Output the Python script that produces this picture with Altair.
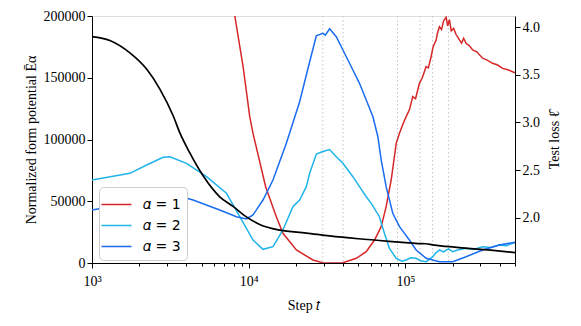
import altair as alt
import pandas as pd

# ---------------- data ----------------
loss_steps = [1000, 1300, 1745, 2230, 2710, 3296, 3637, 4209, 5117, 6531, 7943, 9664,
              11750, 15750, 23300, 32800, 50000, 91600, 120000, 135000, 148600, 181600,
              250000, 350000, 500000]
loss_vals = [3.90, 3.86, 3.73, 3.56, 3.35, 3.07, 2.89, 2.68, 2.44, 2.22, 2.12, 2.01,
             1.93, 1.87, 1.84, 1.81, 1.78, 1.745, 1.73, 1.728, 1.716, 1.70,
             1.68, 1.66, 1.635]

a1_steps = [7000, 8150, 9205, 10150, 10650, 12820, 15000, 16530, 20130, 25700, 29580,
            35000, 39900, 48530, 56200, 63500, 70000, 75300, 81100, 87300, 91600, 96000,
            101000, 106000, 111300, 116000, 122800, 128000, 135500, 140000, 145800,
            150000, 157000, 160000, 164800, 170000, 175000, 181700, 186000, 190700,
            196000, 203000, 210400, 220000, 228000, 235000, 243600, 255000, 268500,
            285000, 310700, 330000, 359700, 385000, 416900, 450000, 482000, 500000]
a1_vals = [250000, 200000, 158950, 118460, 105020, 61780, 37490, 24050, 10530, 2430, 240,
           0, 240, 3800, 9150, 18620, 29390, 45590, 67210, 96920, 105000, 112000,
           118500, 124000, 134700, 133000, 145500, 150000, 159000, 158000, 167000,
           175000, 180500, 186000, 191300, 189000, 196000, 199000, 192000, 197000,
           188000, 190000, 185000, 181000, 178000, 182000, 177900, 176000, 172500,
           171000, 165800, 164500, 161700, 160500, 157600, 156500, 154900, 154000]

a2_steps = [1000, 1745, 2230, 2845, 3140, 4010, 5380, 7210, 8770, 10650, 12330, 14280,
            16530, 19140, 21130, 23300, 24480, 27000, 29730, 32800, 36200, 39900, 46200,
            50900, 56200, 60500, 68200, 73400, 79000, 87300, 95000, 101000, 108000,
            117000, 125000, 135500, 142000, 149300, 156000, 164800, 175000, 188000,
            200000, 215000, 243600, 270000, 310700, 350000, 396800, 440000, 482000,
            500000]
a2_vals = [67210, 72630, 79350, 85580, 86070, 80730, 69880, 56440, 37490, 18620, 11090,
           13200, 26720, 45590, 51010, 61780, 72630, 88260, 90280, 91900, 86070, 80730,
           69880, 61780, 53680, 48340, 37490, 24050, 11900, 3800, 1500, 2430, 4200,
           3800, 1800, 1050, 3000, 5100, 8000, 10530, 9000, 11500, 9150, 10500, 11900,
           11000, 13200, 12500, 14570, 14000, 15960, 16500]

a3_steps = [1000, 1745, 2990, 4415, 6530, 8350, 9660, 10650, 12330, 14280, 17380,
            21130, 24480, 27000, 29730, 30800, 32800, 36200, 39900, 46200, 50900, 56200,
            62000, 66700, 70000, 75300, 83000, 91600, 106000, 117000, 135500, 164800,
            200000, 243600, 310700, 396800, 482000, 500000]
a3_vals = [42900, 48340, 56920, 51010, 42910, 37490, 35630, 38870, 51010, 67210, 96920,
           130600, 163000, 183960, 186000, 184500, 189630, 183240, 172470, 156270,
           145500, 132000, 118460, 102270, 83400, 61780, 40240, 29390, 18620, 10530,
           3810, 1050, 1050, 5100, 10530, 14570, 16440, 16800]

vlines = [29700, 40000, 89000, 124000, 149000, 188000]

series_names = ["𝛼 = 1", "𝛼 = 2", "𝛼 = 3"]
series_colors = ["#d62728", "#1fb4ea", "#1a6cf0"]

# ---------------- tables ----------------
rows = []
for name, st, vs in zip(series_names, [a1_steps, a2_steps, a3_steps], [a1_vals, a2_vals, a3_vals]):
    for i, (s, v) in enumerate(zip(st, vs)):
        rows.append({"step": s, "E": v, "series": name, "order": i})
df_e = pd.DataFrame(rows)
df_loss = pd.DataFrame({"step": loss_steps, "loss": loss_vals})
df_v = pd.DataFrame({"step": vlines})

SERIF = "Liberation Serif"
xticks = []
for dec in [1000, 10000, 100000]:
    for m in range(1, 10):
        if dec * m <= 500000:
            xticks.append(dec * m)

xscale = alt.Scale(type="log", domain=[1000, 500000], nice=False)
xaxis = alt.Axis(
    values=xticks,
    labelExpr="datum.value == 1000 ? '10³' : datum.value == 10000 ? '10⁴' : datum.value == 100000 ? '10⁵' : ''",
    tickSize={"condition": {"test": "datum.value == 1000 || datum.value == 10000 || datum.value == 100000", "value": 5}, "value": 3},
    labelOverlap=False, labelFlush=False, grid=False, title="Step 𝑡",
    labelFont=SERIF, labelFontSize=14, titleFont=SERIF, titleFontSize=14,
    titleFontWeight="normal", domainColor="black", tickColor="black", labelColor="black",
    titleColor="black", labelPadding=6, titlePadding=10,
)
X = alt.X("step:Q", scale=xscale, axis=xaxis)

rules = alt.Chart(df_v).mark_rule(color="#c4c4c4", strokeDash=[1.5, 2.5], strokeWidth=1).encode(
    x=alt.X("step:Q", scale=xscale, axis=xaxis)
)

lines = alt.Chart(df_e).mark_line(strokeWidth=1.5, clip=True).encode(
    x=X,
    y=alt.Y("E:Q", scale=alt.Scale(domain=[0, 200000], nice=False),
            axis=alt.Axis(values=[0, 50000, 100000, 150000, 200000], format="d", grid=False,
                          title="Normalized form potential Ēα", labelFont=SERIF, labelFontSize=14,
                          titleFont=SERIF, titleFontSize=14, titleFontWeight="normal",
                          tickSize=5, domainColor="black", tickColor="black",
                          labelColor="black", titleColor="black", titlePadding=5)),
    color=alt.Color("series:N", scale=alt.Scale(domain=series_names, range=series_colors),
                    legend=alt.Legend(title=None, orient="none", legendX=7, legendY=171,
                                      symbolType="M-1.4,0H1.4", symbolSize=460, symbolStrokeWidth=1.5,
                                      labelFont="DejaVu Sans", labelFontSize=14, labelColor="black",
                                      strokeColor="#cccccc", fillColor="white", cornerRadius=4,
                                      padding=6, rowPadding=2, labelOffset=15)),
    order="order:Q",
)

loss = alt.Chart(df_loss).mark_line(color="black", strokeWidth=1.7, clip=True, interpolate="monotone").encode(
    x=X,
    y=alt.Y("loss:Q", scale=alt.Scale(domain=[1.526, 4.116], nice=False, zero=False),
            axis=alt.Axis(orient="right", values=[2.0, 2.5, 3.0, 3.5, 4.0], format=".1f", grid=False,
                          title="Test loss ℓ̂", titleAngle=270, titleBaseline="top",
                          labelFont=SERIF, labelFontSize=14,
                          titleFont=SERIF, titleFontSize=14, titleFontWeight="normal",
                          tickSize=5, domainColor="black", tickColor="black",
                          labelColor="black", titleColor="black", titlePadding=8)),
)

chart = alt.layer(rules, lines, loss).resolve_scale(y="independent").properties(
    width=423, height=247, padding={"left": 16, "top": 1, "right": 5, "bottom": 5}
).configure_view(stroke="black", strokeWidth=1).configure(background="white")

chart.save("out.html", embed_options={"renderer": "svg", "actions": False})
